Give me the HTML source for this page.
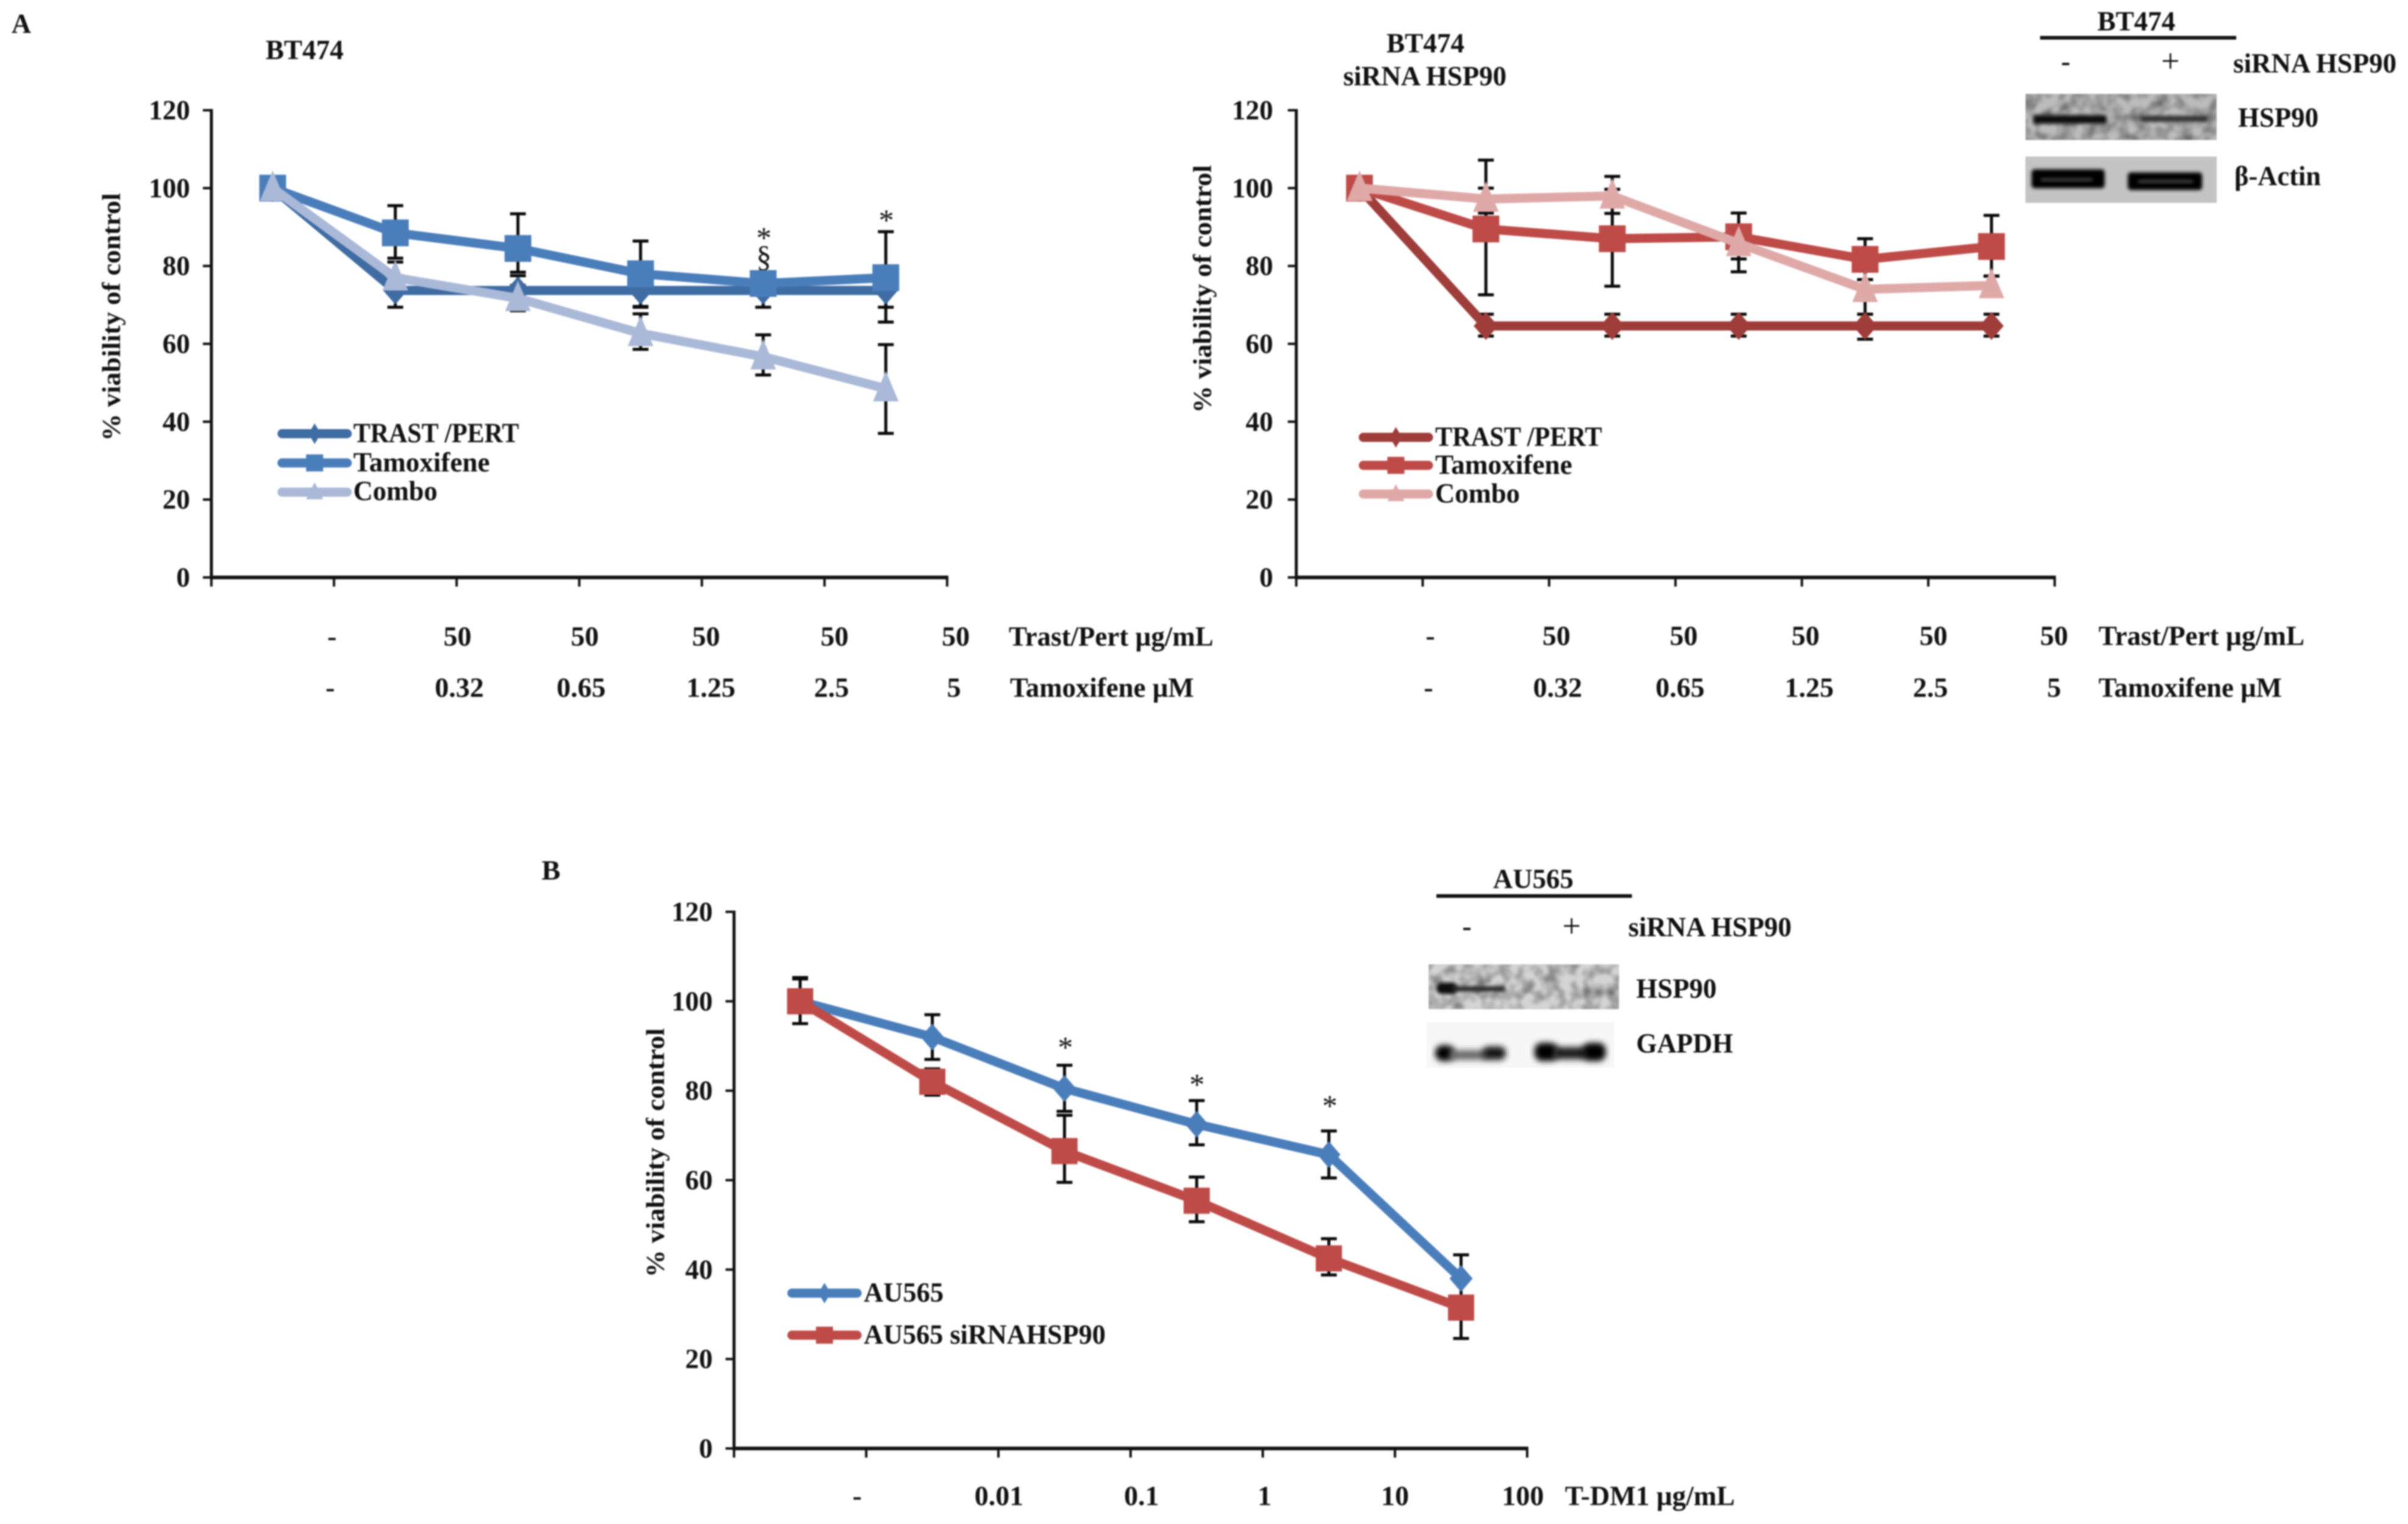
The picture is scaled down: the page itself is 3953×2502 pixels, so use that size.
<!DOCTYPE html>
<html lang="en">
<head>
<meta charset="utf-8">
<title>Viability charts BT474 and AU565</title>
<style>
html,body{margin:0;padding:0;background:#fff;width:3953px;height:2502px;overflow:hidden}
svg{display:block;position:absolute;left:0;top:0;filter:blur(1.2px)}
text{font-family:"Liberation Serif","Noto Serif CJK SC",serif;font-weight:700;fill:#111;font-size:46px}
</style>
</head>
<body>
<svg id="fig" xmlns="http://www.w3.org/2000/svg" width="3953" height="2502" viewBox="0 0 3953 2502">
<defs>
<filter id="b3" x="-20%" y="-80%" width="140%" height="260%"><feGaussianBlur stdDeviation="3"/></filter>
<filter id="b5" x="-20%" y="-80%" width="140%" height="260%"><feGaussianBlur stdDeviation="5"/></filter>
<filter id="noise" x="0" y="0" width="100%" height="100%">
<feTurbulence type="fractalNoise" baseFrequency="0.05" numOctaves="2" seed="4"/>
<feColorMatrix type="matrix" values="0 0 0 0 0  0 0 0 0 0  0 0 0 0 0  0.9 0 0 0 -0.32"/>
<feGaussianBlur stdDeviation="1.5"/>
</filter>
</defs>

<g>
<text x="19" y="54" textLength="32" lengthAdjust="spacingAndGlyphs">A</text>
<text x="889" y="1444" textLength="31" lengthAdjust="spacingAndGlyphs">B</text>
</g>

<!-- titles -->
<text x="436" y="97" textLength="128" lengthAdjust="spacingAndGlyphs">BT474</text>
<text x="2276" y="86" textLength="128" lengthAdjust="spacingAndGlyphs">BT474</text>
<text x="2205" y="140" textLength="268" lengthAdjust="spacingAndGlyphs">siRNA HSP90</text>

<!-- y axis titles -->
<text transform="translate(197,724) rotate(-90)" style="font-size:42px" textLength="407" lengthAdjust="spacingAndGlyphs">% viability of control</text>
<text transform="translate(1988,678) rotate(-90)" style="font-size:42px" textLength="407" lengthAdjust="spacingAndGlyphs">% viability of control</text>
<text transform="translate(1090,2097) rotate(-90)" style="font-size:42px" textLength="409" lengthAdjust="spacingAndGlyphs">% viability of control</text>

<!-- x rows panel A left -->
<g text-anchor="middle">
<text x="545" y="1060">-</text>
<text x="751" y="1060">50</text>
<text x="960" y="1060">50</text>
<text x="1159" y="1060">50</text>
<text x="1370" y="1060">50</text>
<text x="1569" y="1060">50</text>
<text x="542" y="1144">-</text>
<text x="754" y="1144">0.32</text>
<text x="954" y="1144">0.65</text>
<text x="1167" y="1144">1.25</text>
<text x="1365" y="1144">2.5</text>
<text x="1566" y="1144">5</text>
</g>
<text x="1656" y="1060" textLength="336" lengthAdjust="spacingAndGlyphs">Trast/Pert µg/mL</text>
<text x="1658" y="1144" textLength="302" lengthAdjust="spacingAndGlyphs">Tamoxifene µM</text>

<!-- x rows panel A right -->
<g text-anchor="middle">
<text x="2348" y="1059">-</text>
<text x="2555" y="1059">50</text>
<text x="2764" y="1059">50</text>
<text x="2964" y="1059">50</text>
<text x="3174" y="1059">50</text>
<text x="3372" y="1059">50</text>
<text x="2345" y="1144">-</text>
<text x="2557" y="1144">0.32</text>
<text x="2758" y="1144">0.65</text>
<text x="2970" y="1144">1.25</text>
<text x="3169" y="1144">2.5</text>
<text x="3372" y="1144">5</text>
</g>
<text x="3445" y="1059" textLength="338" lengthAdjust="spacingAndGlyphs">Trast/Pert µg/mL</text>
<text x="3445" y="1144" textLength="301" lengthAdjust="spacingAndGlyphs">Tamoxifene µM</text>

<!-- x row panel B -->
<g text-anchor="middle">
<text x="1407" y="2471">-</text>
<text x="1640" y="2471">0.01</text>
<text x="1874" y="2471">0.1</text>
<text x="2076" y="2471">1</text>
<text x="2290" y="2471">10</text>
<text x="2500" y="2471">100</text>
</g>
<text x="2569" y="2471" textLength="279" lengthAdjust="spacingAndGlyphs">T-DM1 µg/mL</text>

<!-- legend text -->
<text x="580" y="726" textLength="272" lengthAdjust="spacingAndGlyphs">TRAST /PERT</text>
<text x="580" y="774" textLength="224" lengthAdjust="spacingAndGlyphs">Tamoxifene</text>
<text x="580" y="821" textLength="138" lengthAdjust="spacingAndGlyphs">Combo</text>
<text x="2356" y="732" textLength="274" lengthAdjust="spacingAndGlyphs">TRAST /PERT</text>
<text x="2356" y="778" textLength="225" lengthAdjust="spacingAndGlyphs">Tamoxifene</text>
<text x="2356" y="825" textLength="139" lengthAdjust="spacingAndGlyphs">Combo</text>
<text x="1418" y="2137" textLength="131" lengthAdjust="spacingAndGlyphs">AU565</text>
<text x="1418" y="2206" textLength="397" lengthAdjust="spacingAndGlyphs">AU565 siRNAHSP90</text>

<!-- significance marks -->
<g text-anchor="middle">
<text x="1254" y="407" style="font-weight:400;font-size:50px">*</text>
<text x="1254" y="438" style="font-weight:400;font-size:50px">§</text>
<text x="1455" y="378" style="font-weight:400;font-size:50px">*</text>
<text x="1749" y="1736" style="font-weight:400;font-size:50px">*</text>
<text x="1965" y="1797" style="font-weight:400;font-size:50px">*</text>
<text x="2183" y="1832" style="font-weight:400;font-size:50px">*</text>
</g>

<!-- BT474 blot -->
<g>
<text x="3443" y="50" textLength="128" lengthAdjust="spacingAndGlyphs">BT474</text>
<rect x="3349" y="59" width="322" height="6" fill="#111"/>
<text x="3391" y="116" text-anchor="middle">-</text>
<text x="3563" y="118" text-anchor="middle" style="font-weight:400;font-size:54px">+</text>
<text x="3666" y="119" textLength="268" lengthAdjust="spacingAndGlyphs">siRNA HSP90</text>
<g>
<rect x="3325" y="154" width="314" height="76" fill="#bcbcbc"/>
<rect x="3325" y="154" width="314" height="76" filter="url(#noise)" fill="#000"/>
<rect x="3338" y="189" width="120" height="14" fill="#0c0c0c" filter="url(#b3)"/>
<rect x="3514" y="190" width="110" height="10" fill="#333" filter="url(#b3)"/>
</g>
<text x="3674" y="208" textLength="132" lengthAdjust="spacingAndGlyphs">HSP90</text>
<g>
<rect x="3325" y="257" width="314" height="76" fill="#c4c4c4"/>
<rect x="3335" y="278" width="120" height="31" rx="5" fill="#050505" filter="url(#b3)"/>
<rect x="3493" y="283" width="122" height="29" rx="5" fill="#050505" filter="url(#b3)"/>
<rect x="3350" y="293" width="85" height="4" fill="#555" filter="url(#b3)"/>
<rect x="3510" y="296" width="90" height="4" fill="#555" filter="url(#b3)"/>
</g>
<text x="3668" y="304" textLength="142" lengthAdjust="spacingAndGlyphs">β-Actin</text>
</g>

<!-- AU565 blot -->
<g>
<text x="2451" y="1458" textLength="132" lengthAdjust="spacingAndGlyphs">AU565</text>
<rect x="2358" y="1468" width="321" height="6" fill="#111"/>
<text x="2408" y="1536" text-anchor="middle">-</text>
<text x="2580" y="1538" text-anchor="middle" style="font-weight:400;font-size:54px">+</text>
<text x="2673" y="1537" textLength="268" lengthAdjust="spacingAndGlyphs">siRNA HSP90</text>
<g>
<rect x="2345" y="1583" width="313" height="74" fill="#d4d4d4"/>
<rect x="2345" y="1583" width="313" height="74" filter="url(#noise)" fill="#000"/>
<rect x="2358" y="1613" width="34" height="19" rx="9" fill="#080808" filter="url(#b3)"/>
<rect x="2385" y="1619" width="85" height="9" fill="#2a2a2a" filter="url(#b3)"/>
</g>
<text x="2686" y="1638" textLength="132" lengthAdjust="spacingAndGlyphs">HSP90</text>
<g>
<rect x="2342" y="1678" width="308" height="75" fill="#f7f7f7"/>
<rect x="2356" y="1716" width="32" height="26" rx="12" fill="#060606" filter="url(#b5)"/>
<rect x="2380" y="1724" width="62" height="16" fill="#666" filter="url(#b5)"/>
<rect x="2434" y="1718" width="38" height="22" rx="10" fill="#181818" filter="url(#b5)"/>
<rect x="2519" y="1712" width="38" height="30" rx="12" fill="#050505" filter="url(#b5)"/>
<rect x="2550" y="1719" width="55" height="20" fill="#1c1c1c" filter="url(#b5)"/>
<rect x="2598" y="1712" width="38" height="30" rx="12" fill="#050505" filter="url(#b5)"/>
</g>
<text x="2686" y="1728" textLength="159" lengthAdjust="spacingAndGlyphs">GAPDH</text>
</g>

<g id="charts"></g>
</svg>

<script>
// ---- shared axis values ----
const yTickLabels = [0, 20, 40, 60, 80, 100, 120];

// ---- Panel A left: BT474 ----
const aLeftTrast    = [100, 73.7, 73.7, 73.7, 73.7, 73.7];
const aLeftTrastHi  = [100, 77.5, 77.5, 77.5, 77.5, 77.5];
const aLeftTrastLo  = [100, 69.4, 69.4, 69.4, 69.4, 69.4];
const aLeftTam      = [100, 88.5, 84.5, 78, 75.5, 77];
const aLeftTamHi    = [100, 95.5, 93.4, 86.4, 78, 88.8];
const aLeftTamLo    = [100, 82, 78.4, 69.6, 73, 65.6];
const aLeftCombo    = [100, 77, 71.7, 62.7, 56.7, 48.5];
const aLeftComboHi  = [100, 81, 75, 67.7, 62.3, 59.8];
const aLeftComboLo  = [100, 73, 68.5, 58.6, 52, 37];

// ---- Panel A right: BT474 siRNA HSP90 ----
const aRightTrast   = [100, 64.6, 64.6, 64.6, 64.6, 64.6];
const aRightTrastHi = [100, 67.6, 67.6, 67.6, 67.6, 67.6];
const aRightTrastLo = [100, 62, 62, 62, 61.2, 62];
const aRightTam     = [100, 89.5, 87, 87.5, 81.7, 85];
const aRightTamHi   = [100, 100, 99.7, 93.6, 87, 93];
const aRightTamLo   = [100, 72.6, 74.8, 78.5, 76.5, 77.4];
const aRightCombo   = [100, 97.2, 98, 85.8, 74, 75];
const aRightComboHi = [100, 107.2, 103, 90, 76.5, 77.4];
const aRightComboLo = [100, 93.6, 93.5, 81.8, 67.6, 73];

// ---- Panel B: AU565 ----
const bAu        = [100, 92, 80.5, 72.5, 65.7, 38];
const bAuHi      = [105.3, 97, 85.7, 77.8, 71, 43.3];
const bAuLo      = [95, 87, 75.4, 67.9, 60.5, 33];
const bSirna     = [100, 82, 66.5, 55.4, 42.5, 31.5];
const bSirnaHi   = [105, 84.9, 74.5, 60.7, 46.9, 38];
const bSirnaLo   = [95, 79, 59.5, 50.7, 38.8, 24.6];

const NS = 'http://www.w3.org/2000/svg';
const root = document.getElementById('charts');

function mk(tag, attrs, parent) {
  const el = document.createElementNS(NS, tag);
  for (const k in attrs) el.setAttribute(k, attrs[k]);
  parent.appendChild(el);
  return el;
}

function marker(kind, cx, cy, w, h, fill, parent) {
  if (kind === 'square') {
    return mk('rect', {x: cx - w / 2, y: cy - h / 2, width: w, height: h, fill: fill}, parent);
  }
  if (kind === 'diamond') {
    return mk('polygon', {points: [cx, cy - h / 2, cx + w / 2, cy, cx, cy + h / 2, cx - w / 2, cy].join(','), fill: fill}, parent);
  }
  return mk('polygon', {points: [cx, cy - h * 0.58, cx + w / 2, cy + h * 0.42, cx - w / 2, cy + h * 0.42].join(','), fill: fill}, parent);
}

function drawPanel(p) {
  const g = mk('g', {}, root);
  
  
  const yPos = v => p.y0 - (p.y0 - p.y120) * v / 120;
  const xTick = i => p.x0 + i * p.step;
  const xPos = i => p.x0 + (i + 0.5) * p.step;

  // axes
  const yAxis = mk('line', {x1: p.x0, x2: p.x0, y1: p.y120 - 2, y2: p.y0 + 3, stroke: '#111', 'stroke-width': 5}, g);
  
  
  const xAxis = mk('line', {x1: p.x0 - 2, x2: xTick(6) + 2, y1: p.y0, y2: p.y0, stroke: '#111', 'stroke-width': 6}, g);
  
  

  yTickLabels.forEach(v => {
    const tick = mk('line', {x1: p.x0 - 14, x2: p.x0, y1: yPos(v), y2: yPos(v), stroke: '#111', 'stroke-width': 4}, g);
    
    
    const lab = mk('text', {x: p.labelX, y: yPos(v) + 15, 'text-anchor': 'end', textLength: String(v).length * 22.6, lengthAdjust: 'spacingAndGlyphs'}, g);
    lab.textContent = v;
    
    
  });
  for (let i = 0; i <= 6; i++) {
    const tick = mk('line', {x1: xTick(i), x2: xTick(i), y1: p.y0, y2: p.y0 + 15, stroke: '#111', 'stroke-width': 4}, g);
    
    
  }

  // error bars under every series
  p.series.forEach(s => {
    s.values.forEach((v, i) => {
      const bar = mk('path', {
        d: 'M' + xPos(i) + ' ' + yPos(s.hi[i]) + 'V' + yPos(s.lo[i]) +
           'M' + (xPos(i) - 13) + ' ' + yPos(s.hi[i]) + 'h26' +
           'M' + (xPos(i) - 13) + ' ' + yPos(s.lo[i]) + 'h26',
        stroke: '#0a0a0a', 'stroke-width': 5, fill: 'none'}, g);
      
      
    });
  });

  // lines and markers
  p.series.forEach(s => {
    const pts = s.values.map((v, i) => xPos(i) + ',' + yPos(v)).join(' ');
    const line = mk('polyline', {points: pts, fill: 'none', stroke: s.color, 'stroke-width': 15, 'stroke-linejoin': 'round'}, g);
    
    
    s.values.forEach((v, i) => {
      const m = marker(s.kind, xPos(i), yPos(v), s.mw, s.mh, s.color, g);
      
      
    });
  });

  // legend swatches
  p.series.forEach((s, i) => {
    const ly = p.legendY[i];
    const sw = mk('line', {x1: p.legendX0, x2: p.legendX1, y1: ly, y2: ly, stroke: s.color, 'stroke-width': 15, 'stroke-linecap': 'round'}, g);
    
    
    const cx = (p.legendX0 + p.legendX1) / 2;
    const m = marker(s.kind, cx, ly, s.kind === 'diamond' ? 20 : 28, s.kind === 'diamond' ? 34 : 28, s.color, g);
    
    
  });
}

drawPanel({
  name: 'chart-a-left', x0: 347, step: 201.3, y0: 948, y120: 181, labelX: 312,
  legendX0: 463, legendX1: 570, legendY: [712, 760, 808],
  series: [
    {key: 'trast-pert', values: aLeftTrast, hi: aLeftTrastHi, lo: aLeftTrastLo, color: '#3f6ca3', kind: 'diamond', mw: 40, mh: 46},
    {key: 'tamoxifene', values: aLeftTam, hi: aLeftTamHi, lo: aLeftTamLo, color: '#4a7ebb', kind: 'square', mw: 44, mh: 44},
    {key: 'combo', values: aLeftCombo, hi: aLeftComboHi, lo: aLeftComboLo, color: '#aab9d8', kind: 'triangle', mw: 42, mh: 50}
  ]
});

drawPanel({
  name: 'chart-a-right', x0: 2128, step: 207.5, y0: 948, y120: 181, labelX: 2090,
  legendX0: 2238, legendX1: 2345, legendY: [718, 764, 811],
  series: [
    {key: 'trast-pert', values: aRightTrast, hi: aRightTrastHi, lo: aRightTrastLo, color: '#9e3d3a', kind: 'diamond', mw: 40, mh: 46},
    {key: 'tamoxifene', values: aRightTam, hi: aRightTamHi, lo: aRightTamLo, color: '#be4b48', kind: 'square', mw: 44, mh: 44},
    {key: 'combo', values: aRightCombo, hi: aRightComboHi, lo: aRightComboLo, color: '#dfa9a8', kind: 'triangle', mw: 42, mh: 50}
  ]
});

drawPanel({
  name: 'chart-b', x0: 1205, step: 217, y0: 2378, y120: 1497, labelX: 1170,
  legendX0: 1300, legendX1: 1407, legendY: [2123, 2192],
  series: [
    {key: 'au565', values: bAu, hi: bAuHi, lo: bAuLo, color: '#4a7ebb', kind: 'diamond', mw: 38, mh: 44},
    {key: 'au565-sirna', values: bSirna, hi: bSirnaHi, lo: bSirnaLo, color: '#be4b48', kind: 'square', mw: 43, mh: 43}
  ]
});
</script>
</body>
</html>
